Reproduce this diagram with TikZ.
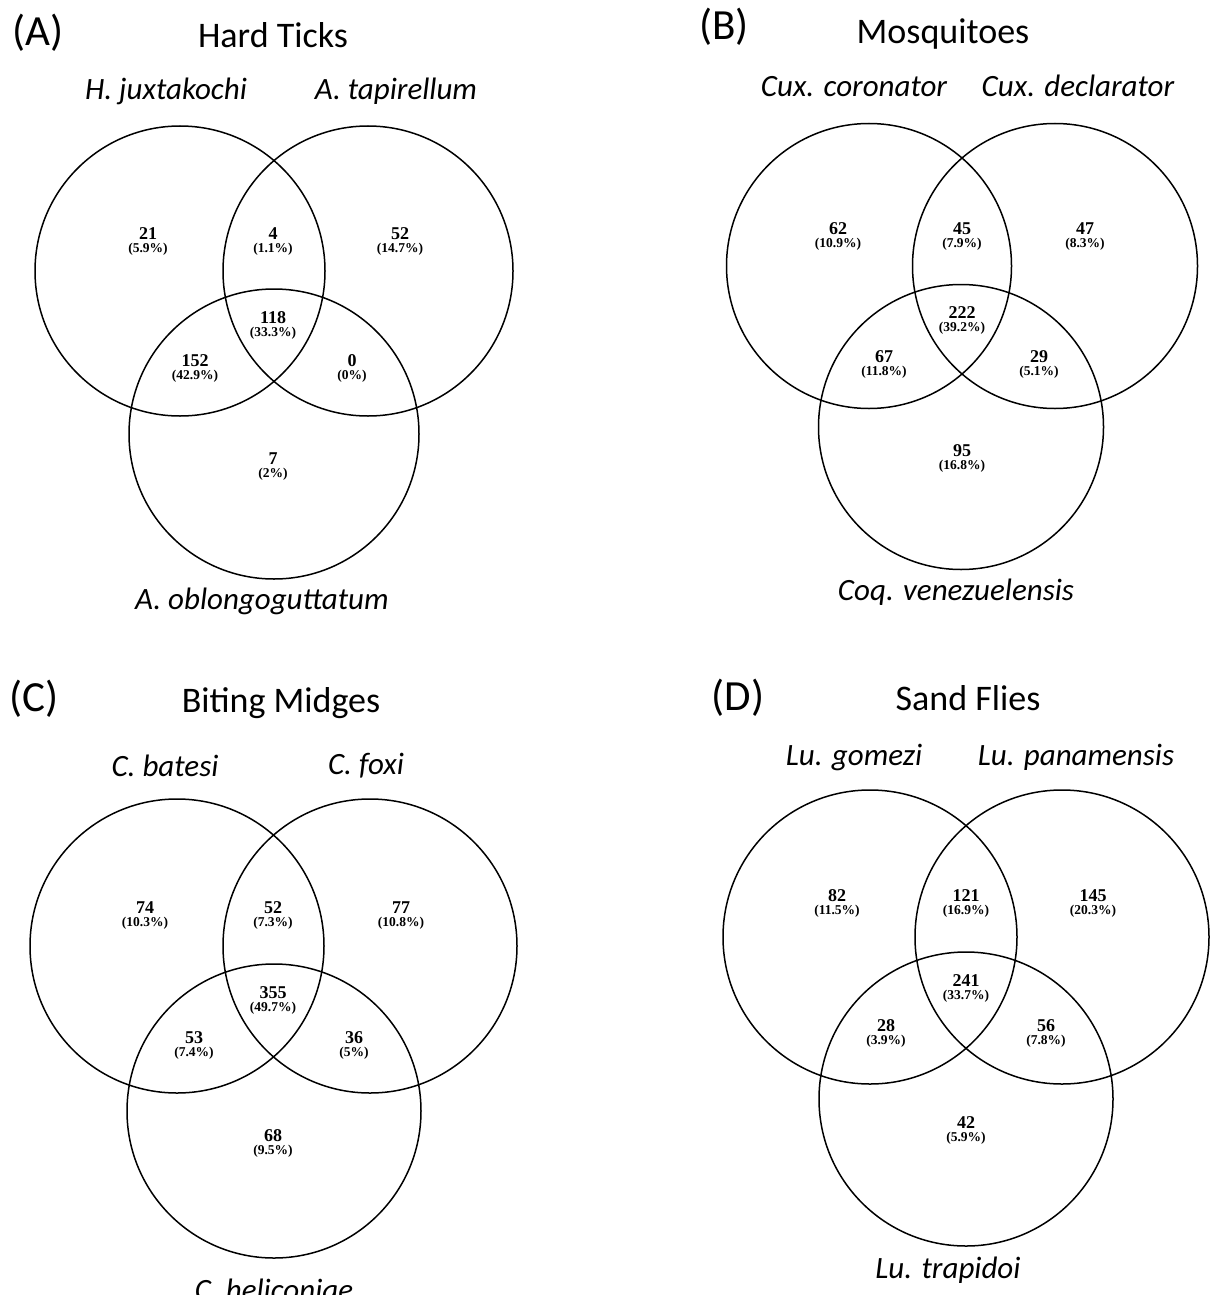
\documentclass[tikz,border=0pt]{standalone}
\usepackage{fontspec}
\setmainfont{Carlito}
\newfontfamily\numfont{Liberation Serif}
\tikzset{
  venn/.style={draw=black, line width=1.5pt},
  panellab/.style={anchor=base, inner sep=0pt, font=\fontsize{43}{46}\selectfont},
  ttl/.style={anchor=base, inner sep=0pt, font=\fontsize{36}{40}\selectfont},
  species/.style={anchor=base, inner sep=0pt, font=\fontsize{31}{36}\selectfont\itshape},
  numst/.style={anchor=base, inner sep=0pt, font=\numfont\bfseries\fontsize{18}{18}\selectfont},
  pctst/.style={anchor=base, inner sep=0pt, font=\numfont\bfseries\fontsize{13.5}{14}\selectfont},
}
\newcommand\vcount[5]{%
  \node[numst] (#1) at (#2,#3) {#4};
  \node[pctst] (#1p) at (#2,#3+13) {#5};
}
\begin{document}
\begin{tikzpicture}[x=1pt,y=-1pt]
\useasboundingbox (0,0) rectangle (1210,1295);
\clip (0,0) rectangle (1210,1295);
\fill[white] (0,0) rectangle (1210,1295);

% ---------- Panel A ----------
\node[panellab] (pA) at (38,46) {(A)};
\node[ttl] (tA) at (273,48) {Hard Ticks};
\node[species] (sA1) at (166,100) {H. juxtakochi};
\node[species] (sA2) at (396,100) {A. tapirellum};
\node[species] (sA3) at (262,609) {A. oblongoguttatum};
\draw[venn] (180,271) circle[radius=145];
\draw[venn] (368,271) circle[radius=145];
\draw[venn] (274,434) circle[radius=145];
\vcount{a1}{148}{239}{21}{(5.9\%)}
\vcount{a2}{273}{239}{4}{(1.1\%)}
\vcount{a3}{400}{239}{52}{(14.7\%)}
\vcount{a4}{273}{323}{118}{(33.3\%)}
\vcount{a5}{195}{366}{152}{(42.9\%)}
\vcount{a6}{352}{366}{0}{(0\%)}
\vcount{a7}{273}{464}{7}{(2\%)}

% ---------- Panel B ----------
\node[panellab] (pB) at (724,40) {(B)};
\node[ttl] (tB) at (943,44) {Mosquitoes};
\node[species] (sB1) at (854,97) {Cux. coronator};
\node[species] (sB2) at (1078,97) {Cux. declarator};
\node[species] (sB3) at (956,600) {Coq. venezuelensis};
\draw[venn] (869,266) circle[radius=142.5];
\draw[venn] (1055,266) circle[radius=142.5];
\draw[venn] (961,427) circle[radius=142.5];
\vcount{b1}{838}{234}{62}{(10.9\%)}
\vcount{b2}{962}{234}{45}{(7.9\%)}
\vcount{b3}{1085}{234}{47}{(8.3\%)}
\vcount{b4}{962}{318}{222}{(39.2\%)}
\vcount{b5}{884}{362}{67}{(11.8\%)}
\vcount{b6}{1039}{362}{29}{(5.1\%)}
\vcount{b7}{962}{456}{95}{(16.8\%)}

% ---------- Panel C ----------
\node[panellab] (pC) at (34,711) {(C)};
\node[ttl] (tC) at (281,712) {Biting Midges};
\node[species] (sC1) at (165,776) {C. batesi};
\node[species] (sC2) at (366,774) {C. foxi};
\node[species] (sC3) at (274,1300) {C. heliconiae};
\draw[venn] (177,946) circle[radius=147];
\draw[venn] (370,946) circle[radius=147];
\draw[venn] (274,1111) circle[radius=147];
\vcount{c1}{145}{913}{74}{(10.3\%)}
\vcount{c2}{273}{913}{52}{(7.3\%)}
\vcount{c3}{401}{913}{77}{(10.8\%)}
\vcount{c4}{273}{998}{355}{(49.7\%)}
\vcount{c5}{194}{1043}{53}{(7.4\%)}
\vcount{c6}{354}{1043}{36}{(5\%)}
\vcount{c7}{273}{1141}{68}{(9.5\%)}

% ---------- Panel D ----------
\node[panellab] (pD) at (738,710) {(D)};
\node[ttl] (tD) at (968,710) {Sand Flies};
\node[species] (sD1) at (854,765) {Lu. gomezi};
\node[species] (sD2) at (1076,765) {Lu. panamensis};
\node[species] (sD3) at (948,1278) {Lu. trapidoi};
\draw[venn] (870,937) circle[radius=147];
\draw[venn] (1062,937) circle[radius=147];
\draw[venn] (966,1099) circle[radius=147];
\vcount{d1}{837}{901}{82}{(11.5\%)}
\vcount{d2}{966}{901}{121}{(16.9\%)}
\vcount{d3}{1093}{901}{145}{(20.3\%)}
\vcount{d4}{966}{986}{241}{(33.7\%)}
\vcount{d5}{886}{1031}{28}{(3.9\%)}
\vcount{d6}{1046}{1031}{56}{(7.8\%)}
\vcount{d7}{966}{1128}{42}{(5.9\%)}
\end{tikzpicture}
\end{document}
